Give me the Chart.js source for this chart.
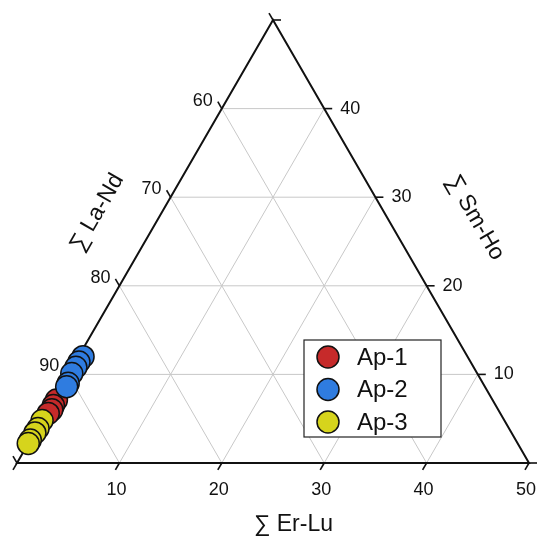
<!DOCTYPE html>
<html>
<head>
<meta charset="utf-8">
<title>Ternary REE plot</title>
<script src="https://cdn.jsdelivr.net/npm/chart.js@4.4.1/dist/chart.umd.min.js"></script>
<style>
  body { margin: 0; background: #fff; }
  #wrap { width: 550px; height: 544px; }
</style>
</head>
<body>
<div id="wrap"><canvas id="ternary" width="550" height="544"></canvas></div>
<script>
// series values (wt% of REE sum)
var seriesNames = ['Ap-1', 'Ap-2', 'Ap-3'];
var seriesColors = ['#c62a2a', '#2f7ce0', '#d6d41c'];

var ap1SmHo = [7.1, 6.5, 6.0, 5.6];
var ap1ErLu = [0.3, 0.3, 0.4, 0.25];

var ap2SmHo = [12.0, 11.4, 10.8, 10.1, 9.0, 8.6];
var ap2ErLu = [0.45, 0.35, 0.35, 0.3, 0.5, 0.55];

var ap3SmHo = [4.8, 3.9, 3.4, 2.6, 2.2];
var ap3ErLu = [0.05, 0.1, 0.05, 0.0, 0.0];

// axis tick labels
var laNdTicks = [60, 70, 80, 90];
var smHoTicks = [10, 20, 30, 40];
var erLuTicks = [10, 20, 30, 40, 50];
var gridSteps = [10, 20, 30, 40];

var axisTitles = { left: '\u2211 La-Nd', right: '\u2211 Sm-Ho', bottom: '\u2211 Er-Lu' };

var SIDE = 50;             // the triangle spans 50 % on each axis
var H = Math.sqrt(3) / 2;

// ternary (Er-Lu, Sm-Ho) -> cartesian
function toXY(e, s) {
    return { x: e + s / 2, y: s * H };
}

function makePoints(smHo, erLu) {
    var pts = [];
    for (var i = 0; i < smHo.length; i++) {
        pts.push(toXY(erLu[i], smHo[i]));
    }
    return pts;
}

function px(chart, e, s) {
    var p = toXY(e, s);
    return { x: chart.scales.x.getPixelForValue(p.x), y: chart.scales.y.getPixelForValue(p.y) };
}

function line(ctx, a, b) {
    ctx.beginPath();
    ctx.moveTo(a.x, a.y);
    ctx.lineTo(b.x, b.y);
    ctx.stroke();
}

var FONT = '"Liberation Sans", Arial, sans-serif';

var ternaryFrame = {
    id: 'ternaryFrame',
    beforeDatasetsDraw: function (chart) {
        var ctx = chart.ctx;
        ctx.save();

        // grid
        ctx.strokeStyle = '#c8c8c8';
        ctx.lineWidth = 1;
        gridSteps.forEach(function (v) {
            line(ctx, px(chart, 0, v), px(chart, SIDE - v, v));       // Sm-Ho const
            line(ctx, px(chart, v, 0), px(chart, v, SIDE - v));       // Er-Lu const
            line(ctx, px(chart, 0, v), px(chart, v, 0));              // La-Nd const
        });

        // frame
        ctx.strokeStyle = '#111';
        ctx.lineWidth = 2;
        ctx.lineJoin = 'miter';
        var a = px(chart, 0, 0), b = px(chart, SIDE, 0), c = px(chart, 0, SIDE);
        ctx.beginPath();
        ctx.moveTo(a.x, a.y);
        ctx.lineTo(b.x, b.y);
        ctx.lineTo(c.x, c.y);
        ctx.closePath();
        ctx.stroke();

        // ticks: extensions of the grid lines
        var T = 8;
        ctx.lineWidth = 1.6;
        for (var v = 0; v <= SIDE; v += 10) {
            var pb = px(chart, v, 0);
            line(ctx, pb, { x: pb.x - 0.5 * T, y: pb.y + H * T });
            var pl = px(chart, 0, v);
            line(ctx, pl, { x: pl.x - 0.5 * T, y: pl.y - H * T });
            var pr = px(chart, SIDE - v, v);
            line(ctx, pr, { x: pr.x + T, y: pr.y });
        }

        // tick labels
        ctx.fillStyle = '#111';
        ctx.font = '18px ' + FONT;
        ctx.textBaseline = 'middle';
        ctx.textAlign = 'right';
        laNdTicks.forEach(function (t) {
            var p = px(chart, 0, 100 - t);
            ctx.fillText(String(t), p.x - 9, p.y - 8);
        });
        ctx.textAlign = 'left';
        smHoTicks.forEach(function (t) {
            var p = px(chart, SIDE - t, t);
            ctx.fillText(String(t), p.x + 16, p.y);
        });
        ctx.textAlign = 'center';
        erLuTicks.forEach(function (t) {
            var p = px(chart, t, 0);
            ctx.fillText(String(t), p.x - 3, p.y + 27);
        });

        // axis titles
        ctx.font = '23px ' + FONT;
        var ml = px(chart, 0, 25.1);
        ctx.save();
        ctx.translate(ml.x - 56 * H, ml.y - 56 * 0.5);
        ctx.rotate(-Math.PI / 3);
        ctx.fillText(axisTitles.left, 0, 0);
        ctx.restore();

        var mr = px(chart, SIDE - 23.4, 23.4);
        ctx.save();
        ctx.translate(mr.x + 76 * H, mr.y - 76 * 0.5);
        ctx.rotate(Math.PI / 3);
        ctx.fillText(axisTitles.right, 0, 0);
        ctx.restore();

        var mb = px(chart, 27, 0);
        ctx.fillText(axisTitles.bottom, mb.x, mb.y + 62);

        ctx.restore();
    },
    afterDraw: function (chart) {
        // legend box
        var ctx = chart.ctx;
        var bx = 304, by = 340, bw = 137, bh = 97;
        ctx.save();
        ctx.fillStyle = '#fff';
        ctx.fillRect(bx, by, bw, bh);
        ctx.strokeStyle = '#222';
        ctx.lineWidth = 1.2;
        ctx.strokeRect(bx, by, bw, bh);
        ctx.font = '24px ' + FONT;
        ctx.textAlign = 'left';
        ctx.textBaseline = 'middle';
        for (var i = 0; i < seriesNames.length; i++) {
            var cy = by + 17 + i * 32.5;
            ctx.beginPath();
            ctx.arc(bx + 24, cy, 11, 0, Math.PI * 2);
            ctx.fillStyle = seriesColors[i];
            ctx.fill();
            ctx.lineWidth = 1.5;
            ctx.strokeStyle = '#111';
            ctx.stroke();
            ctx.fillStyle = '#111';
            ctx.fillText(seriesNames[i], bx + 53, cy + 1);
        }
        ctx.restore();
    }
};

function ds(i, pts, order) {
    return {
        label: seriesNames[i],
        data: pts,
        backgroundColor: seriesColors[i],
        borderColor: '#111',
        borderWidth: 1.5,
        pointRadius: 11,
        pointHoverRadius: 11,
        clip: false,
        order: order
    };
}

var chart = new Chart(document.getElementById('ternary'), {
    type: 'scatter',
    data: {
        datasets: [
            ds(0, makePoints(ap1SmHo, ap1ErLu), 3),
            ds(1, makePoints(ap2SmHo, ap2ErLu), 1),
            ds(2, makePoints(ap3SmHo, ap3ErLu), 2)
        ]
    },
    options: {
        responsive: false,
        animation: false,
        devicePixelRatio: 1,
        layout: { padding: { left: 17, right: 21, top: 20, bottom: 81 } },
        scales: {
            x: { type: 'linear', min: 0, max: SIDE, display: false },
            y: { type: 'linear', min: 0, max: SIDE * H, display: false }
        },
        plugins: {
            legend: { display: false },
            tooltip: { enabled: false }
        }
    },
    plugins: [ternaryFrame]
});
</script>
</body>
</html>
